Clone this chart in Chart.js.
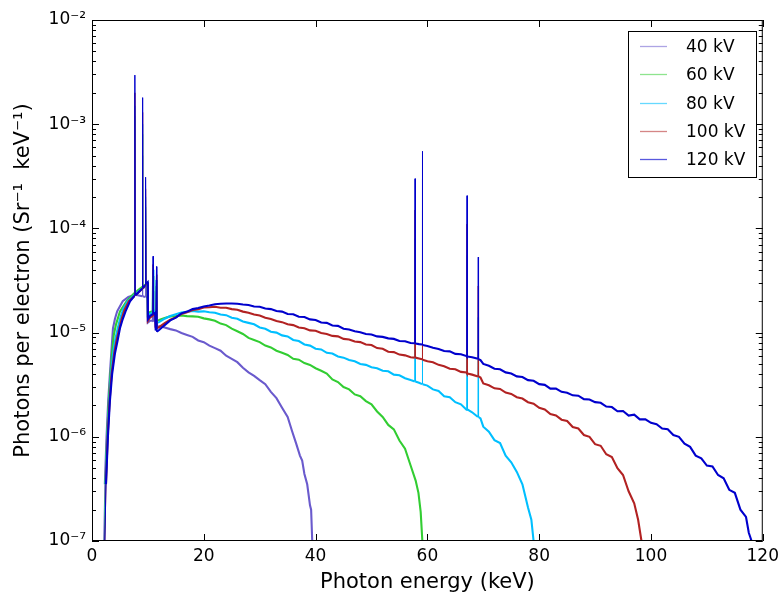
<!DOCTYPE html>
<html lang="en">
<head>
  <meta charset="UTF-8" />
  <title>Tungsten X-ray spectra</title>
  <script src="https://cdn.jsdelivr.net/npm/chart.js"></script>
  <style>
    html, body { margin: 0; padding: 0; background: #fff; }
    #wrap { width: 784px; height: 598px; }
  </style>
</head>
<body>
  <div id="wrap"><canvas id="spectra"></canvas></div>

<script>
  // photon energy in keV, flux in units of 1e-6 photons / (Sr keV electron)
  const e40 = [2.1,2.3,2.6,2.9,3.2,3.5,3.75,4.1,4.5,5.5,6.5,7.6,7.67,7.74,8.2,9.0,9.04,9.08,9.5,9.55,9.59,9.63,9.67,9.95,10.0,10.4,10.88,10.93,10.98,11.3,11.4,11.54,11.6,12,12.5,
    13,14,15,16,17,18,19,20,21,22,23,24,25,26,27,28,29,30,31,32,33,34,35,35.8,36.5,37.2,37.6,38,38.5,39,39.2,39.4];
  const f40 = [0.1,0.35,1.0,2.2,4.0,7,11,13.5,16,20,22,23,800,23,22.8,22.3,500,22.3,22,80,22,100,22,21.5,12.5,13,13,25,13,13.2,11.3,20,11.3,11.5,11.4,
    11.2,10.8,10.5,9.9,9.5,9.1,8.4,8.1,7.5,7.1,6.7,6.0,5.6,5.2,4.6,4.15,3.85,3.5,3.2,2.7,2.35,1.9,1.55,1.13,0.87,0.66,0.59,0.44,0.35,0.22,0.2,0.1];

  const e60 = [2.2,2.4,2.7,3.0,3.3,3.6,3.9,4.3,5.0,6.2,7.6,7.67,7.74,8.2,9.0,9.04,9.08,9.5,9.55,9.59,9.63,9.67,9.95,10.0,10.4,10.88,10.93,10.98,11.3,11.4,11.54,11.6,12,12.5,
    13,14,15,16,17,18,19,20,21,22,23,24,25,26,27,28,29,30,31,32,33,34,35,36,37,38,39,40,41,42,43,44,45,46,47,48,49,50,51,52,53,54,55,56,57,57.9,58.4,58.8,59.1];
  const f60 = [0.1,0.35,1.0,2.2,4.0,6.5,9.5,12,16,20,24,1200,24.2,25.5,27.5,800,27.6,29,120,29.3,160,29.5,30,15,15.8,16,35,16,16.3,13,28,13,13.2,13.5,
    13.8,14.3,14.4,14.6,14.4,14.3,14.2,13.7,13.4,13.0,12.2,11.8,10.9,10.3,9.7,8.9,8.5,8.1,7.5,7.2,6.7,6.4,6.1,5.6,5.5,5.1,4.9,4.55,4.3,4.05,3.55,3.35,3.0,2.85,2.55,2.45,2.2,2.05,1.75,1.55,1.3,1.18,0.92,0.77,0.53,0.38,0.29,0.19,0.1];

  const e80 = [2.25,2.45,2.75,3.1,3.4,3.8,4.2,4.6,5.1,5.6,6.4,7.6,7.67,7.74,8.2,9.0,9.04,9.08,9.5,9.55,9.59,9.63,9.67,9.95,10.0,10.4,10.88,10.93,10.98,11.3,11.4,11.54,11.6,12,12.5,
    13,14,15,16,17,18,19,20,21,22,23,24,25,26,27,28,29,30,31,32,33,34,35,36,37,38,39,40,41,42,43,44,45,46,47,48,49,50,51,52,53,54,55,56,57,
    57.75,57.8,57.85,58.5,59.05,59.1,59.15,60,61,62,63,64,65,66,67,67.05,67.1,67.15,68,69.05,69.1,69.15,69.5,70,71,72,73,74,75,76,77,78,78.6,79.0];
  const f80 = [0.1,0.35,1.0,2.2,4.0,6.5,8.8,11,14,17,20,23,1500,23.2,24.5,26.5,1000,26.6,28,150,28.3,200,28.6,29,14.5,15.2,15.5,40,15.5,16,12.5,32,12.4,12.6,13.1,
    13.6,14.4,15.0,15.6,15.8,16.1,15.9,16.0,15.7,15.5,14.9,14.7,13.9,13.6,12.8,12.4,12.0,11.2,10.9,10.2,10.0,9.4,9.2,8.5,8.3,7.7,7.5,7.0,6.9,6.4,6.3,5.9,5.75,5.45,5.3,5.0,4.9,4.65,4.55,4.3,4.25,3.95,3.9,3.65,3.5,
    3.4,80,3.4,3.3,3.2,150,3.2,3.1,2.85,2.75,2.45,2.4,2.15,2.05,1.82,1.85,55,1.83,1.72,1.55,14,1.55,1.5,1.25,1.12,0.93,0.87,0.66,0.57,0.46,0.35,0.21,0.16,0.1];

  const e100 = [2.3,2.5,2.8,3.15,3.5,4.0,4.4,4.9,5.3,5.8,6.6,7.6,7.67,7.74,8.2,9.0,9.04,9.08,9.5,9.55,9.59,9.63,9.67,9.95,10.0,10.4,10.88,10.93,10.98,11.3,11.4,11.54,11.6,12,12.5,
    13,14,15,16,17,18,19,20,21,22,23,24,25,26,27,28,29,30,31,32,33,34,35,36,37,38,39,40,41,42,43,44,45,46,47,48,49,50,51,52,53,54,55,56,57,
    57.75,57.8,57.85,58.5,59.05,59.1,59.15,60,61,62,63,64,65,66,67,67.05,67.1,67.15,68,69.05,69.1,69.15,69.5,
    70,71,72,73,74,75,76,77,78,79,80,81,82,83,84,85,86,87,88,89,90,91,92,93,94,95,96,97,97.7,98.3];
  const f100 = [0.1,0.35,1.0,2.2,4.0,6.5,8.5,11,13.5,16.5,20,22.5,2000,22.8,24,26.3,1300,26.5,28,180,28.5,240,29,29.5,13,14,14.5,45,14.5,15,11,36,11,11.3,11.8,
    12.3,13.3,14.0,15.1,15.7,16.5,16.8,17.4,17.5,17.7,17.3,17.3,16.8,16.6,15.9,15.5,14.9,14.6,13.9,13.5,12.9,12.6,12.0,11.8,11.2,11.0,10.5,10.4,9.9,9.7,9.3,9.2,8.7,8.6,8.2,8.1,7.7,7.6,7.1,7.0,6.55,6.5,6.15,6.05,5.8,
    5.75,150,5.75,5.65,5.55,300,5.5,5.3,5.2,4.9,4.75,4.5,4.45,4.2,4.15,4.1,110,4.05,3.95,3.8,28,3.8,3.7,
    3.25,3.12,2.92,2.88,2.66,2.58,2.4,2.33,2.15,2.08,1.9,1.83,1.65,1.6,1.46,1.42,1.24,1.2,1.04,1.0,0.85,0.82,0.68,0.64,0.5,0.43,0.3,0.23,0.16,0.1];

  const e120 = [2.3,2.5,2.85,3.2,3.6,4.1,4.6,5.0,5.5,6.0,6.8,7.6,7.67,7.74,8.2,9.0,9.04,9.08,9.5,9.55,9.59,9.63,9.67,9.95,10.0,10.4,10.88,10.93,10.98,11.3,11.4,11.54,11.6,12,12.5,
    13,14,15,16,17,18,19,20,21,22,23,24,25,26,27,28,29,30,31,32,33,34,35,36,37,38,39,40,41,42,43,44,45,46,47,48,49,50,51,52,53,54,55,56,57,
    57.75,57.8,57.85,58.5,59.05,59.1,59.15,60,61,62,63,64,65,66,67,67.05,67.1,67.15,68,69.05,69.1,69.15,69.5,
    70,71,72,73,74,75,76,77,78,79,80,81,82,83,84,85,86,87,88,89,90,91,92,93,94,95,96,97,98,99,100,
    101,102,103,104,105,106,107,108,109,110,111,112,113,114,115,116,117,117.5,118];
  const f120 = [0.1,0.35,1.0,2.2,4.0,6.3,8.5,11,13.5,16,20,22.5,2960,22.8,24,26.5,1800,26.8,28.5,230,29,310,29.5,30.5,13.5,14.5,15,54,15,15.5,10.5,43,10.2,10.6,11.2,
    11.8,13.1,13.9,15.3,15.9,16.8,17.2,17.8,18.2,18.7,18.9,19.0,19.0,18.9,18.6,18.4,17.8,17.7,17.0,16.8,16.1,15.9,15.1,15.0,14.2,14.1,13.4,13.2,12.5,12.4,11.7,11.6,10.9,10.7,10.3,10.1,9.7,9.6,9.2,9.1,8.8,8.7,8.3,8.25,7.95,
    7.9,300,7.85,7.75,7.7,550,7.6,7.45,7.15,6.95,6.65,6.6,6.25,6.2,5.95,5.9,206,5.9,5.8,5.6,53,5.55,5.45,
    5.0,4.8,4.5,4.45,4.15,4.05,3.8,3.75,3.5,3.45,3.2,3.15,2.9,2.9,2.7,2.65,2.5,2.48,2.3,2.28,2.15,2.12,1.95,1.93,1.76,1.77,1.6,1.63,1.47,1.47,1.36,
    1.32,1.2,1.18,1.04,1.0,0.86,0.8,0.66,0.62,0.53,0.52,0.43,0.4,0.31,0.29,0.2,0.17,0.12,0.1];

  const seriesLabels = ["40 kV", "60 kV", "80 kV", "100 kV", "120 kV"];
  const seriesEnergy = [e40, e60, e80, e100, e120];
  const seriesFlux = [f40, f60, f80, f100, f120];
  const lineColors = ["#6a5acd", "#32cd32", "#00bfff", "#b22222", "#0000cd"];
  const legendColors = ["rgba(106,90,205,0.55)", "rgba(50,205,50,0.55)", "rgba(0,191,255,0.6)", "rgba(178,34,34,0.55)", "rgba(0,0,205,0.65)"];

  const xTicks = [0, 20, 40, 60, 80, 100, 120];
  const yDecades = [-7, -6, -5, -4, -3, -2];

  const FONT = "'DejaVu Sans', 'Liberation Sans', sans-serif";
  Chart.defaults.font.family = FONT;
  Chart.defaults.color = "#000";

  const sup = { "-": "\u207B", "0": "\u2070", "1": "\u00B9", "2": "\u00B2", "3": "\u00B3", "4": "\u2074",
                "5": "\u2075", "6": "\u2076", "7": "\u2077", "8": "\u2078", "9": "\u2079" };
  function powerLabel(exp) {
    return "10" + String(exp).split("").map(c => sup[c]).join("");
  }

  function toPoints(energy, flux) {
    return energy.map((e, i) => ({ x: e, y: flux[i] * 1e-6 }));
  }

  // thin lines for the characteristic peaks, heavier for the noisy continuum
  function segWidth(ctx) {
    const a = ctx.p0.parsed.y, b = ctx.p1.parsed.y;
    return Math.max(a, b) / Math.min(a, b) > 3 ? 1 : 2.1;
  }

  const datasets = seriesLabels.map((label, i) => ({
    label,
    data: toPoints(seriesEnergy[i], seriesFlux[i]),
    borderColor: lineColors[i],
    borderWidth: 2.1,
    pointRadius: 0,
    tension: 0,
    order: seriesLabels.length - i,
    segment: { borderWidth: segWidth }
  }));

  const framePlugin = {
    id: "frame",
    afterDraw(chart) {
      const { ctx, chartArea: a, scales } = chart;
      const x = scales.x, y = scales.y;
      ctx.save();
      ctx.strokeStyle = "#000";
      ctx.lineWidth = 1;
      ctx.strokeRect(a.left + 0.5, a.top + 0.5, a.right - a.left - 1, a.bottom - a.top - 1);

      const seg = (x1, y1, x2, y2) => { ctx.beginPath(); ctx.moveTo(x1, y1); ctx.lineTo(x2, y2); ctx.stroke(); };
      xTicks.forEach(v => {
        const px = Math.round(x.getPixelForValue(v)) + 0.5;
        seg(px, a.bottom, px, a.bottom - 7);
        seg(px, a.top, px, a.top + 7);
      });
      yDecades.forEach(d => {
        for (let m = 1; m <= 9; m++) {
          if (d === -2 && m > 1) break;
          const py = Math.round(y.getPixelForValue(m * Math.pow(10, d))) + 0.5;
          const len = m === 1 ? 7 : 4;
          seg(a.left, py, a.left + len, py);
          seg(a.right, py, a.right - len, py);
        }
      });

      // legend box
      const bx = 628.5, by = 31.5, bw = 128, bh = 146;
      ctx.fillStyle = "#fff";
      ctx.fillRect(bx, by, bw, bh);
      ctx.strokeRect(bx, by, bw, bh);
      ctx.font = "17px " + FONT;
      ctx.textBaseline = "middle";
      ctx.textAlign = "left";
      chart.data.datasets.forEach((ds, i) => {
        const ry = Math.round(46 + i * 28.3) + 0.5;
        ctx.strokeStyle = legendColors[i];
        ctx.lineWidth = 1.3;
        seg(640, ry, 667, ry);
        ctx.fillStyle = "#000";
        ctx.fillText(ds.label, 686, ry + 1);
      });
      ctx.restore();
    }
  };

  new Chart(document.getElementById("spectra"), {
    type: "line",
    data: { datasets },
    options: {
      responsive: true,
      maintainAspectRatio: false,
      animation: false,
      devicePixelRatio: 1,
      layout: { padding: { left: 0, right: 19, top: 20, bottom: 0 } },
      plugins: { legend: { display: false }, tooltip: { enabled: false } },
      scales: {
        x: {
          type: "linear",
          min: 0,
          max: 120,
          afterFit: s => { s.height = 57; },
          afterBuildTicks: s => { s.ticks = xTicks.map(v => ({ value: v })); },
          grid: { display: false, drawTicks: false },
          border: { display: false },
          ticks: { font: { size: 17 }, padding: 5, maxRotation: 0, autoSkip: false },
          title: { display: true, text: "Photon energy (keV)", font: { size: 21 }, padding: { top: 0, bottom: 3 } }
        },
        y: {
          type: "logarithmic",
          min: 1e-7,
          max: 1e-2,
          afterFit: s => { s.width = 92; },
          afterBuildTicks: s => { s.ticks = yDecades.map(d => ({ value: Math.pow(10, d) })); },
          grid: { display: false, drawTicks: false },
          border: { display: false },
          ticks: {
            font: { size: 17 },
            padding: 6,
            autoSkip: false,
            callback: v => powerLabel(Math.round(Math.log10(v)))
          },
          title: { display: true, text: "Photons per electron (Sr\u207B\u00B9  keV\u207B\u00B9)", font: { size: 21 }, padding: { top: 11, bottom: 0 } }
        }
      }
    },
    plugins: [framePlugin]
  });
</script>
</body>
</html>
